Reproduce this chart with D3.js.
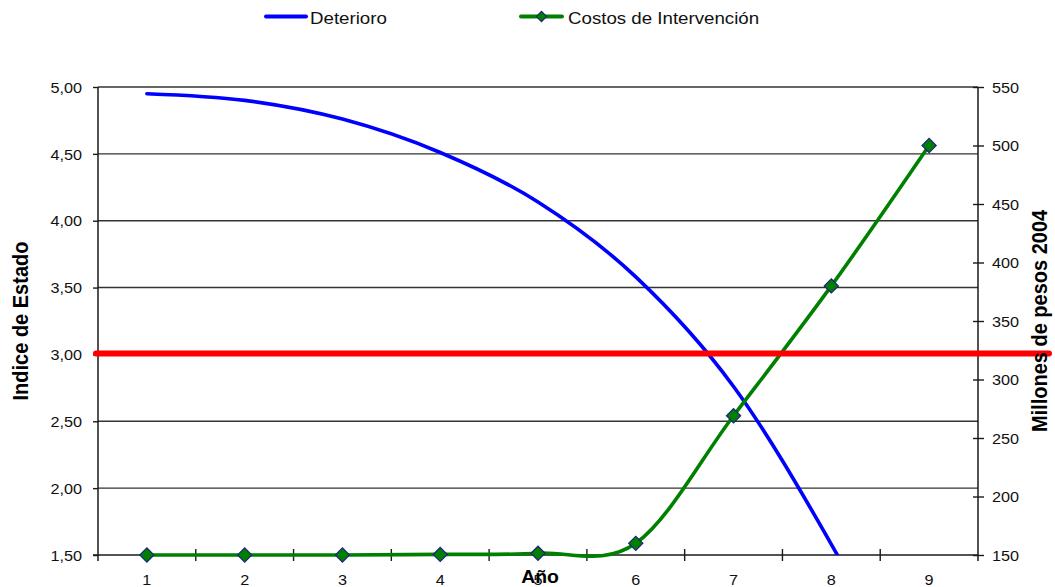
<!DOCTYPE html>
<html>
<head>
<meta charset="utf-8">
<script src="https://cdn.jsdelivr.net/npm/d3@7"></script>
<style>
  html, body { margin: 0; padding: 0; background: #fff; }
  svg { display: block; font-family: "Liberation Sans", Arial, sans-serif; }
</style>
</head>
<body>
<svg id="chart" width="1055" height="587"></svg>
<script>
// ---- data ----
const years = [1, 2, 3, 4, 5, 6, 7, 8, 9];
const deterioro = [4.95, 4.90, 4.76, 4.51, 4.14, 3.58, 2.76, 1.58, 0.20];
const costos = [150, 150, 150, 150.5, 151.5, 160, 269, 380, 500];
const leftTicks = [1.5, 2.0, 2.5, 3.0, 3.5, 4.0, 4.5, 5.0];
const rightTicks = [150, 200, 250, 300, 350, 400, 450, 500, 550];
const umbral = 3.0;
const seriesNames = ["Deterioro", "Costos de Intervención"];
const leftTitle = "Indice de Estado";
const rightTitle = "Millones de pesos 2004";
const xTitle = "Año";

// ---- layout ----
const L = 98, R = 978, T = 87, B = 555;
const HS = 1.12; // horizontal stretch of text
const svg = d3.select("#chart");

const x = d3.scaleBand().domain(years).range([L, R]);
const xc = d => x(d) + x.bandwidth() / 2;
const yL = d3.scaleLinear().domain([1.5, 5]).range([B, T]);
const yR = d3.scaleLinear().domain([150, 550]).range([B, T]);

const axisColor = "#1a1a1a";

// gridlines
svg.append("g").selectAll("line")
  .data(leftTicks.filter(d => d > 1.5))
  .join("line")
  .attr("x1", L).attr("x2", R)
  .attr("y1", d => yL(d)).attr("y2", d => yL(d))
  .attr("stroke", "#333").attr("stroke-width", 1.4);

// left axis
const fmt = d => d3.format(".2f")(d).replace(".", ",");
const gL = svg.append("g").attr("transform", `translate(${L},0)`)
  .call(d3.axisLeft(yL).tickValues(leftTicks).tickSize(5).tickFormat(fmt));
gL.select(".domain").remove();
gL.selectAll(".tick line").attr("stroke", axisColor).attr("stroke-width", 1.4);
gL.selectAll(".tick text")
  .attr("x", null).attr("dy", "0.36em")
  .attr("transform", `translate(-16,0) scale(${HS},1)`)
  .attr("font-size", 14.5).attr("fill", "#111");
svg.append("line").attr("x1", L).attr("x2", L).attr("y1", T).attr("y2", B + 6)
  .attr("stroke", axisColor).attr("stroke-width", 1.5);

// right axis
const gR = svg.append("g").attr("transform", `translate(${R},0)`)
  .call(d3.axisRight(yR).tickValues(rightTicks).tickSize(6));
gR.select(".domain").remove();
gR.selectAll(".tick line").attr("x1", -5).attr("x2", 6)
  .attr("stroke", axisColor).attr("stroke-width", 1.4);
gR.selectAll(".tick text")
  .attr("x", null).attr("dy", "0.36em")
  .attr("transform", `translate(14,0) scale(${HS},1)`)
  .attr("font-size", 14.5).attr("fill", "#111");
svg.append("line").attr("x1", R).attr("x2", R).attr("y1", T).attr("y2", B + 6)
  .attr("stroke", axisColor).attr("stroke-width", 1.5);

// bottom axis
svg.append("line").attr("x1", L - 5).attr("x2", R).attr("y1", B).attr("y2", B)
  .attr("stroke", axisColor).attr("stroke-width", 1.5);
const gB = svg.append("g").attr("transform", `translate(0,${B})`)
  .call(d3.axisBottom(x).tickSize(0));
gB.select(".domain").remove();
gB.selectAll(".tick text")
  .attr("y", null).attr("dy", null)
  .attr("transform", `translate(0,29.5) scale(${HS},1)`)
  .attr("font-size", 14.5).attr("fill", "#111");
// boundary ticks (crossing)
svg.append("g").selectAll("line")
  .data(years.slice(1))
  .join("line")
  .attr("x1", d => x(d)).attr("x2", d => x(d))
  .attr("y1", B - 6).attr("y2", B + 6)
  .attr("stroke", axisColor).attr("stroke-width", 1.4);

// clip for blue
svg.append("defs").append("clipPath").attr("id", "plotclip")
  .append("rect").attr("x", L).attr("y", T - 10).attr("width", R - L).attr("height", B - T + 10);

// Deterioro line
const lineL = d3.line().x((d, i) => xc(years[i])).y(d => yL(d)).curve(d3.curveCatmullRom.alpha(0));
svg.append("path").datum(deterioro)
  .attr("d", lineL)
  .attr("clip-path", "url(#plotclip)")
  .attr("fill", "none").attr("stroke", "#0000ff").attr("stroke-width", 3.6)
  .attr("stroke-linecap", "round");

// Costos line
const lineR = d3.line().x((d, i) => xc(years[i])).y(d => yR(d)).curve(d3.curveCatmullRom.alpha(0));
svg.append("path").datum(costos)
  .attr("d", lineR)
  .attr("fill", "none").attr("stroke", "#008000").attr("stroke-width", 3.6)
  .attr("stroke-linecap", "round");

const diamond = d3.symbol().type(d3.symbolSquare).size(100);
svg.append("g").selectAll("path")
  .data(costos)
  .join("path")
  .attr("d", diamond)
  .attr("transform", (d, i) => `translate(${xc(years[i])},${yR(d)}) rotate(45)`)
  .attr("fill", "#008000").attr("stroke", "#1a237e").attr("stroke-width", 1.2);

// red threshold line
svg.append("line")
  .attr("x1", L - 2).attr("x2", 1049)
  .attr("y1", yL(umbral) - 1).attr("y2", yL(umbral) - 1)
  .attr("stroke", "#ff0000").attr("stroke-width", 6)
  .attr("stroke-linecap", "round");

// axis titles
svg.append("text")
  .attr("transform", `translate(28,${(T + B) / 2}) rotate(-90) scale(1,1.1)`)
  .attr("text-anchor", "middle").attr("font-weight", "bold").attr("font-size", 20)
  .attr("fill", "#000").text(leftTitle);
svg.append("text")
  .attr("transform", `translate(1047,${(T + B) / 2}) rotate(-90) scale(1,1.1)`)
  .attr("text-anchor", "middle").attr("font-weight", "bold").attr("font-size", 20)
  .attr("fill", "#000").text(rightTitle);
svg.append("text")
  .attr("transform", `translate(540,583) scale(1.05,1)`)
  .attr("text-anchor", "middle").attr("font-weight", "bold").attr("font-size", 18.5)
  .attr("fill", "#000").text(xTitle);

// legend
const lg = svg.append("g");
lg.append("line").attr("x1", 266).attr("x2", 306).attr("y1", 16.5).attr("y2", 16.5)
  .attr("stroke", "#0000ff").attr("stroke-width", 4).attr("stroke-linecap", "round");
lg.append("text").attr("transform", `translate(310,24) scale(1.1,1)`)
  .attr("font-size", 17).attr("fill", "#111").text(seriesNames[0]);
lg.append("line").attr("x1", 521).attr("x2", 562).attr("y1", 16.5).attr("y2", 16.5)
  .attr("stroke", "#008000").attr("stroke-width", 4).attr("stroke-linecap", "round");
lg.append("path").attr("d", d3.symbol().type(d3.symbolSquare).size(52))
  .attr("transform", `translate(541.5,16.5) rotate(45)`)
  .attr("fill", "#008000").attr("stroke", "#1a237e").attr("stroke-width", 1.2);
lg.append("text").attr("transform", `translate(568,24) scale(1.1,1)`)
  .attr("font-size", 17).attr("fill", "#111").text(seriesNames[1]);
</script>
</body>
</html>
